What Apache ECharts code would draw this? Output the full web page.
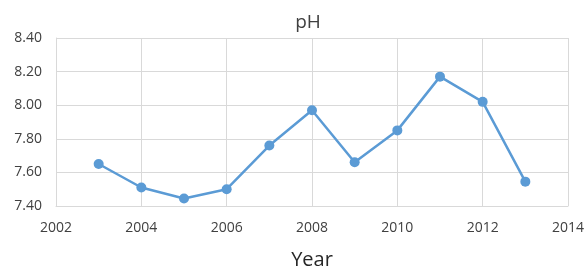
<!DOCTYPE html>
<html>
<head>
<meta charset="utf-8">
<script src="https://cdn.jsdelivr.net/npm/echarts@6/dist/echarts.min.js"></script>
<style>
  html, body { margin: 0; padding: 0; background: #fff; }
  #main { width: 588px; height: 272px; }
</style>
</head>
<body>
<div id="main"></div>
<script>
const years = [2003, 2004, 2005, 2006, 2007, 2008, 2009, 2010, 2011, 2012, 2013];
const phValues = [7.65, 7.51, 7.445, 7.50, 7.76, 7.97, 7.66, 7.85, 8.17, 8.02, 7.545];

window.addEventListener('load', function () {
    let chart = echarts.init(document.getElementById('main'));
    let option = {
        animation: false,
        title: {
            text: 'pH',
            left: 303,
            top: 8,
            textAlign: 'center',
            textStyle: { color: '#404040', fontSize: 19, fontWeight: 'normal', fontFamily: 'Open Sans' }
        },
        grid: { left: 56, right: 20, top: 38, bottom: 66, containLabel: false, outerBoundsMode: 'none' },
        xAxis: {
            type: 'value',
            min: 2002, max: 2014, interval: 2,
            name: 'Year',
            nameLocation: 'middle',
            nameGap: 44,
            nameTextStyle: { color: '#262626', fontSize: 20, fontFamily: 'Open Sans' },
            axisLine: { show: true, lineStyle: { color: '#d9d9d9' } },
            axisTick: { show: false },
            axisLabel: { color: '#404040', fontSize: 14, fontFamily: 'Open Sans', margin: 15,
                formatter: v => String(v) },
            splitLine: { show: true, lineStyle: { color: '#d9d9d9' } }
        },
        yAxis: {
            type: 'value',
            min: 7.4, max: 8.4, interval: 0.2,
            axisLine: { show: true, lineStyle: { color: '#d9d9d9' } },
            axisTick: { show: false },
            axisLabel: { color: '#404040', fontSize: 14, fontFamily: 'Open Sans', margin: 14,
                formatter: v => v.toFixed(2) },
            splitLine: { show: true, lineStyle: { color: '#d9d9d9' } }
        },
        series: [{
            type: 'line',
            data: years.map((y, i) => [y, phValues[i]]),
            symbol: 'circle',
            symbolSize: 10,
            lineStyle: { color: '#5b9bd5', width: 2.5 },
            itemStyle: { color: '#5b9bd5' }
        }]
    };
    chart.setOption(option);
}, false);
</script>
</body>
</html>
